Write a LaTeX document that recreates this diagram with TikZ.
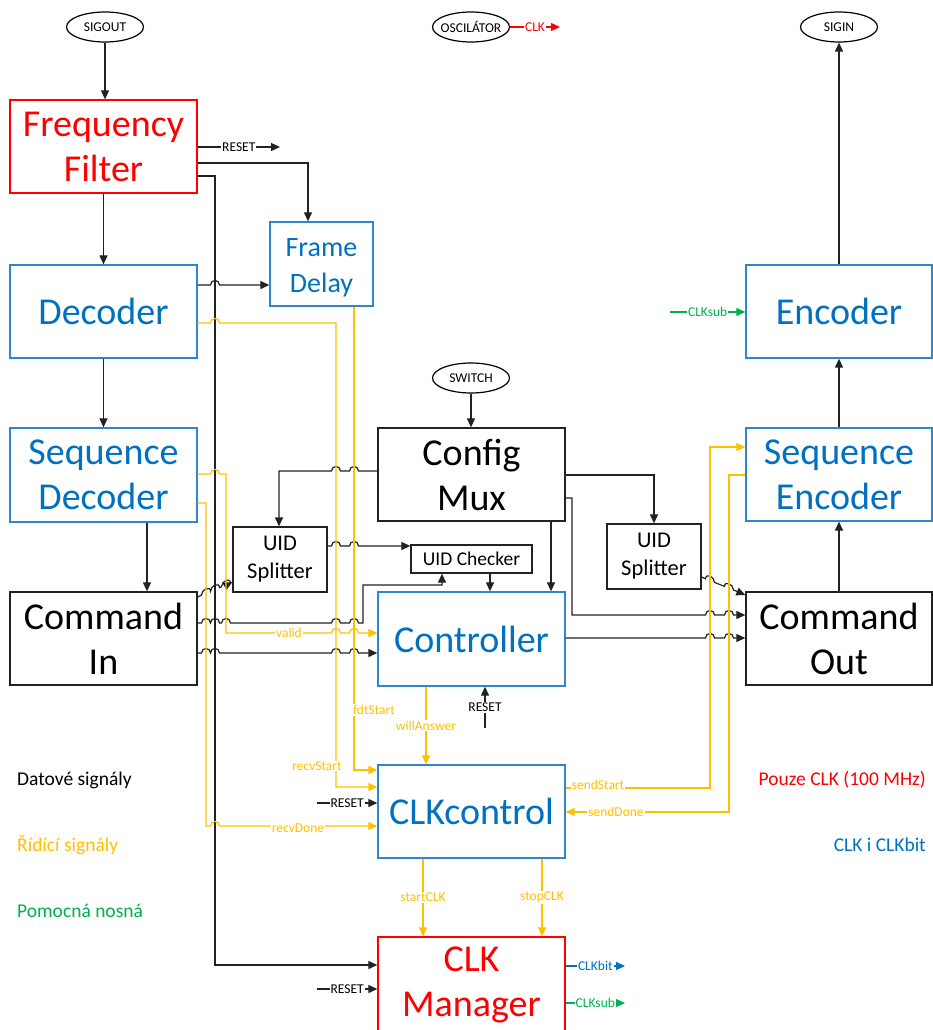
\documentclass[tikz,border=0pt]{standalone}
\usepackage{fontspec}
\setmainfont{Carlito}
\usetikzlibrary{arrows.meta,shapes.geometric}
\definecolor{cblue}{HTML}{0070C0}
\definecolor{cbord}{HTML}{2E86D0}
\definecolor{cyel}{HTML}{FFC000}
\definecolor{cred}{HTML}{FF0000}
\definecolor{cgreen}{HTML}{00B050}
\definecolor{cline}{HTML}{222222}
\newcommand\hops[2]{\foreach \h in {#1}{-- (\h-4.5,#2) .. controls (\h-4.5,#2-6) and (\h+4.5,#2-6) .. (\h+4.5,#2)}}
\newcommand\hopsL[2]{\foreach \h in {#1}{-- (\h+4.5,#2) .. controls (\h+4.5,#2-6) and (\h-4.5,#2-6) .. (\h-4.5,#2)}}
% hops on a sloped line through (#1,#2) with slope #3 (dy/dx)
\newcommand\dhops[4]{\foreach \h in {#4}{-- (\h-4.5,{#2+(\h-4.5-#1)*(#3)}) .. controls (\h-4.5,{#2+(\h-4.5-#1)*(#3)-6}) and (\h+4.5,{#2+(\h+4.5-#1)*(#3)-6}) .. (\h+4.5,{#2+(\h+4.5-#1)*(#3)})}}
\begin{document}
\begin{tikzpicture}[x=1pt,y=-1pt,
  every node/.style={inner sep=0pt},
  box/.style={draw, line width=1.3pt, align=center, font=\fontsize{38}{45}\selectfont},
  bluebox/.style={box, draw=cbord, text=cblue},
  redbox/.style={box, draw=cred, text=cred},
  blackbox/.style={box, draw=cline, text=black},
  ell/.style={ellipse, draw=black, line width=1.2pt, minimum width=77pt, minimum height=30pt},
  etext/.style={font=\fontsize{13.5}{15}\selectfont},
  wire/.style={draw=cline, line width=1.2pt},
  ywire/.style={draw=cyel, line width=1.2pt},
  gwire/.style={draw=cgreen, line width=1.2pt},
  rwire/.style={draw=cred, line width=1.2pt},
  bwire/.style={draw=cblue, line width=1.2pt},
  arr/.style={-{Triangle[length=9pt,width=8pt]}},
  lbl/.style={font=\fontsize{13.5}{15}\selectfont, fill=white, inner sep=1pt},
  legend/.style={font=\fontsize{19.5}{22}\selectfont}
]
\useasboundingbox (0,0) rectangle (933,1030);

% ellipses
\node[ell] (sigout) at (105,27) {};
\node[etext] at (sigout) {SIGOUT};
\node[ell] (osc) at (471,27) {};
\node[etext] at (osc) {OSCILÁTOR};
\node[ell] (sigin) at (839,27) {};
\node[etext] at (sigin) {SIGIN};
\node[ell] (switch) at (471,378) {};
\node[etext] at (switch) {SWITCH};

% boxes
\node[redbox, minimum width=187pt, minimum height=93pt] (ff) at (103.5,146.5) {Frequency\\Filter};
\node[bluebox, minimum width=103pt, minimum height=84pt] (fd) at (321.5,264) {};
\node[align=center, text=cblue, font=\fontsize{28}{36}\selectfont] at (321.5,267.5) {Frame\\Delay};
\node[bluebox, minimum width=187pt, minimum height=93pt] (dec) at (103.5,311.5) {Decoder};
\node[bluebox, minimum width=187pt, minimum height=94pt] (sdec) at (103.5,475) {Sequence\\Decoder};
\node[blackbox, minimum width=187pt, minimum height=93pt] (cin) at (103.5,638.5) {Command\\In};
\node[blackbox, minimum width=187pt, minimum height=93pt] (cmux) at (471.5,474.5) {Config\\Mux};
\node[blackbox, minimum width=94pt, minimum height=65pt, font=\fontsize{22.5}{28}\selectfont] (uids1) at (280,559.5) {UID\\Splitter};
\node[blackbox, minimum width=121pt, minimum height=28pt, font=\fontsize{19.5}{22}\selectfont] (uidc) at (471.5,559) {UID Checker};
\node[bluebox, minimum width=187pt, minimum height=94pt] (ctrl) at (471.5,639) {Controller};
\node[blackbox, minimum width=186pt, minimum height=93pt] (cout) at (839,638.5) {Command\\Out};
\node[bluebox, minimum width=186pt, minimum height=93pt] (senc) at (839,474.5) {Sequence\\Encoder};
\node[bluebox, minimum width=186pt, minimum height=93pt] (enc) at (839,311.5) {Encoder};
\node[blackbox, minimum width=94pt, minimum height=65pt, font=\fontsize{22.5}{28}\selectfont] (uids2) at (654,556.5) {UID\\Splitter};
\node[bluebox, minimum width=187pt, minimum height=93pt] (clkc) at (471.5,811.5) {CLKcontrol};
\node[redbox, minimum width=187pt, minimum height=96pt] (clkm) at (471.5,985) {CLK\\Manager};

% free ends
\coordinate (rst1) at (280,147);
\coordinate (clkout) at (560,27);
\coordinate (csubin) at (670,312);
\coordinate (rst2) at (485,728);
\coordinate (rst3) at (317,803);
\coordinate (rst4) at (317,989);
\coordinate (cbit) at (625,966);
\coordinate (csub) at (625,1003);

% black data wires
\draw[wire,arr] (sigout.south) -- (sigout.south |- ff.north);
\draw[wire,arr] (ff.south) -- (dec.north);
\draw[wire,arr] (dec.south) -- (sdec.north);
\draw[wire,arr] (sdec.south -| 147,0) -- (cin.north -| 147,0);
\draw[wire,arr] (ff.east |- rst1) -- node[lbl]{RESET} (rst1);
\draw[wire,arr] (ff.east |- 0,163) -| (fd.north -| 308,0);
\draw[wire,arr] (ff.east |- 0,176) -| (215,965) -- (clkm.west |- 0,965);
\draw[wire,arr] (dec.east |- 0,285) \hops{215}{285} -- (fd.west |- 0,285);
\draw[wire,arr] (cin.east |- 0,597) \dhops{197}{597}{-0.4167}{206,215,226} -- (uids1.west |- 0,582);
\draw[wire,arr] (cin.east |- 0,623) \hops{206,215,226,336,354}{623} -| (363,585) -| (uidc.south -| 442,0);
\draw[wire,arr] (cin.east |- 0,653) \hops{206,215,336,354}{653} -- (ctrl.west |- 0,653);
\draw[wire,arr] (cmux.west |- 0,471) \hopsL{354,336}{471} -| (uids1.north -| 279,0);
\draw[wire,arr] (uids1.east |- 0,546) \hops{336,354}{546} -- (uidc.west |- 0,546);
\draw[wire,arr] (uidc.south -| 490,0) -- (ctrl.north -| 490,0);
\draw[wire,arr] (cmux.south -| 551,0) -- (ctrl.north -| 551,0);
\draw[wire,arr] (switch.south) -- (switch.south |- cmux.north);
\draw[wire,arr] (cmux.east |- 0,475) -| (uids2.north);
\draw[wire,arr] (cmux.east |- 0,498) -| (572,615) \hops{710,729}{615} -- (cout.west |- 0,615);
\draw[wire,arr] (ctrl.east |- 0,638) \hops{710,729}{638} -- (cout.west |- 0,638);
\draw[wire,arr] (uids2.east |- 0,577) \dhops{701}{577}{0.4}{710,729} -- (cout.west |- 0,595);
\draw[wire,arr] (cout.north) -- (senc.south);
\draw[wire,arr] (senc.north) -- (enc.south);
\draw[wire,arr] (enc.north) -- (sigin.south);
\draw[wire,arr] (rst2) -- node[lbl]{RESET} (ctrl.south -| rst2);
\draw[wire,arr] (rst3) -- node[lbl]{RESET} (clkc.west |- rst3);
\draw[wire,arr] (rst4) -- node[lbl]{RESET} (clkm.west |- rst4);

% yellow control wires
\draw[ywire,arr] (dec.east |- 0,323) \hops{215}{323} -| (336,787) -- (clkc.west |- 0,787);
\draw[ywire,arr] (fd.south -| 354,0) |- (clkc.west |- 0,770);
\draw[ywire,arr] (sdec.east |- 0,474) \hops{215}{474} -| (226,633) \hops{336,354}{633} -- (ctrl.west |- 0,633);
\draw[ywire,arr] (sdec.east |- 0,503) -| (206,826) \hops{215}{826} -- (clkc.west |- 0,826);
\draw[ywire,arr] (ctrl.south -| 426,0) -- node[lbl,text=cyel]{willAnswer} (clkc.north -| 426,0);
\draw[ywire,arr] (clkc.east |- 0,788) -| (710,447) -- (senc.west |- 0,447);
\draw[ywire,arr] (senc.west |- 0,475) -| (729,812) -- (clkc.east |- 0,812);
\draw[ywire,arr] (clkc.south -| 423,0) -- node[lbl,text=cyel]{startCLK} (clkm.north -| 423,0);
\draw[ywire,arr] (clkc.south -| 542,0) -- node[lbl,text=cyel]{stopCLK} (clkm.north -| 542,0);
\node[lbl,text=cyel] at (317,766) {recvStart};
\node[lbl,text=cyel] at (374,710) {fdtStart};
\node[lbl,text=cyel] at (289,633) {valid};
\node[lbl,text=cyel] at (298,828) {recvDone};
\node[lbl,text=cyel] at (598,785) {sendStart};
\node[lbl,text=cyel] at (616,812) {sendDone};

% clock wires
\draw[rwire,arr] (osc.east) -- node[lbl,text=cred]{CLK} (clkout);
\draw[gwire,arr] (csubin) -- node[lbl,text=cgreen]{CLKsub} (enc.west |- csubin);
\draw[bwire,arr] (clkm.east |- cbit) -- node[lbl,text=cblue]{CLKbit} (cbit);
\draw[gwire,arr] (clkm.east |- csub) -- node[lbl,text=cgreen]{CLKsub} (csub);

% legend
\node[legend, anchor=west, text=black] at (17,780) {Datové signály};
\node[legend, anchor=west, text=cyel] at (17,845) {Řídící signály};
\node[legend, anchor=west, text=cgreen] at (17,911) {Pomocná nosná};
\node[legend, anchor=east, text=cred] at (926,780) {Pouze CLK (100 MHz)};
\node[legend, anchor=east, text=cblue] at (926,845) {CLK i CLKbit};
\end{tikzpicture}
\end{document}
